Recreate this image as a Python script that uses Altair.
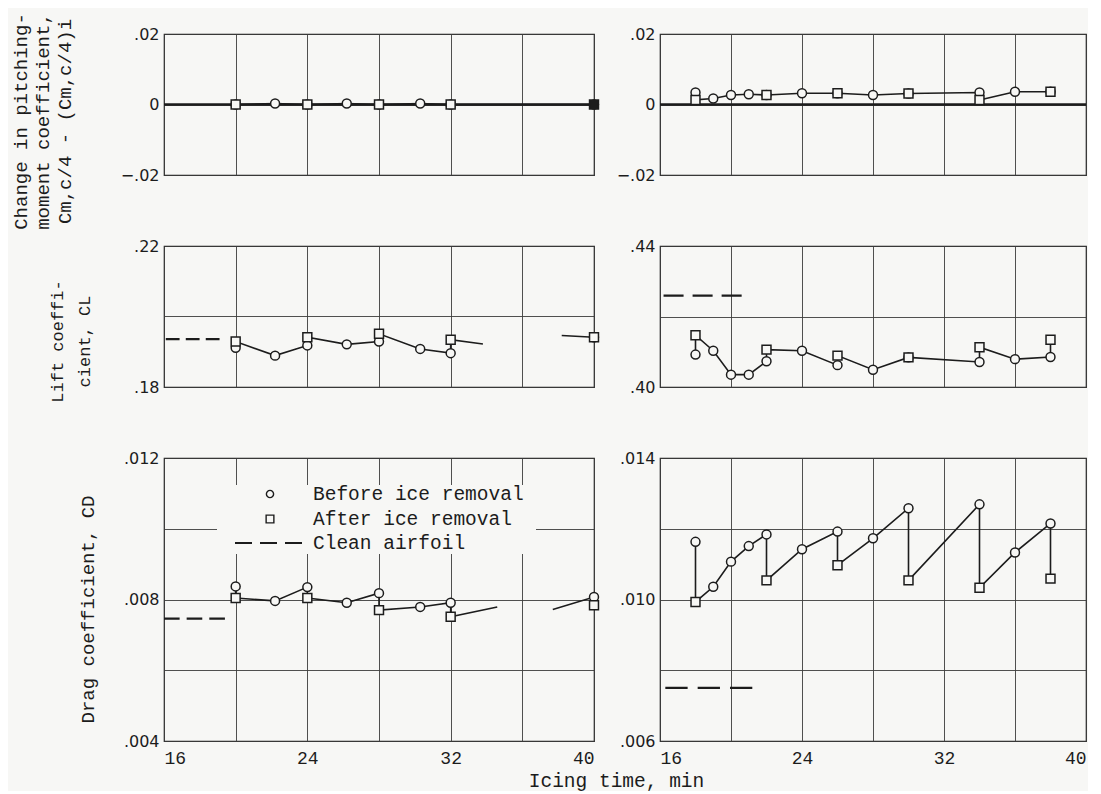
import altair as alt
import pandas as pd

BG = "#f7f7f5"
INK = "#1c1c1c"
GRID = "#3c3c3c"
MONO = "Liberation Mono"
SANS = "DejaVu Sans"

KINDS = ["Before ice removal", "After ice removal"]
SHAPES = ["circle", "square"]
LEGEND_LABELS = ["Before ice removal", "After ice removal", "Clean airfoil"]

# ---------------- data (icing time in min) ----------------
# left column
left_before_t = [20, 22.2, 24, 26.2, 28, 30.3, 32, 40]
left_after_t = [20, 24, 28, 32, 40]

pitch_l_before_v = [0, 0.0003, 0, 0.0003, 0, 0.0003, 0, 0]
pitch_l_after_v = [0, 0, 0, 0, 0]
pitch_l_after_solid = [0, 0, 0, 0, 1]

lift_l_before_v = [0.1911, 0.1889, 0.1918, 0.1921, 0.1929, 0.1908, 0.1896, 0.1941]
lift_l_after_v = [0.1929, 0.1941, 0.1951, 0.1934, 0.1941]
lift_l_gap_t = [33.8, 38.2]
lift_l_gap_v = [0.1922, 0.1946]
lift_l_clean_t = [16.1, 19.1]
lift_l_clean_v = 0.1936

drag_l_before_v = [0.00837, 0.00796, 0.00835, 0.00791, 0.00818, 0.00779, 0.00791, 0.00807]
drag_l_after_v = [0.00804, 0.00804, 0.00770, 0.00751, 0.00784]
drag_l_gap_t = [34.6, 37.7]
drag_l_gap_v = [0.00779, 0.00772]
drag_l_clean_t = [16.0, 19.4]
drag_l_clean_v = 0.00746

# right column
right_before_t = [18, 19, 20, 21, 22, 24, 26, 28, 30, 34, 36, 38]
right_after_t = [18, 22, 26, 30, 34, 38]

pitch_r_before_v = [0.0034, 0.0017, 0.0027, 0.0029, 0.0027, 0.0032, 0.0032, 0.0027, 0.0031, 0.0034, 0.0036, 0.0036]
pitch_r_after_v = [0.0013, 0.0027, 0.0032, 0.0031, 0.0013, 0.0036]

lift_r_before_v = [0.4092, 0.4103, 0.4035, 0.4035, 0.4073, 0.4103, 0.4062, 0.4049, 0.4084, 0.4071, 0.4079, 0.4085]
lift_r_after_v = [0.4147, 0.4106, 0.4089, 0.4084, 0.4113, 0.4134]
lift_r_clean_t = [16.2, 20.6]
lift_r_clean_v = 0.4259

drag_r_before_v = [0.01163, 0.01036, 0.01107, 0.01151, 0.01184, 0.01142, 0.01192, 0.01173, 0.01258, 0.01269, 0.01133, 0.01215]
drag_r_after_v = [0.00993, 0.01054, 0.01097, 0.01054, 0.01033, 0.01059]
drag_r_clean_t = [16.3, 21.2]
drag_r_clean_v = 0.0075

# axis values
x_grid = [16, 20, 24, 28, 32, 36, 40]
pitch_vals = [-0.02, 0.0, 0.02]
lift_l_vals = [0.18, 0.20, 0.22]
lift_l_lab = [0.18, 0.22]
lift_r_vals = [0.40, 0.42, 0.44]
lift_r_lab = [0.40, 0.44]
drag_l_vals = [0.004, 0.006, 0.008, 0.010, 0.012]
drag_l_lab = [0.004, 0.008, 0.012]
drag_r_vals = [0.006, 0.008, 0.010, 0.012, 0.014]
drag_r_lab = [0.006, 0.010, 0.014]

LW, RW = 430, 426
H1, H3 = 141, 283


def points_df(bt, bv, at, av, solid=None):
    rows = [{"t": t, "v": v, "kind": KINDS[0], "solid": 0} for t, v in zip(bt, bv)]
    for i, (t, v) in enumerate(zip(at, av)):
        rows.append({"t": t, "v": v, "kind": KINDS[1], "solid": solid[i] if solid else 0})
    return pd.DataFrame(rows)


def path_df(bt, bv, at, av, gap_t=None, gap_v=None, split=None):
    rows = [(t, 0, v) for t, v in zip(bt, bv)] + [(t, 1, v) for t, v in zip(at, av)]
    if gap_t:
        rows += [(t, 0, v) for t, v in zip(gap_t, gap_v)]
    rows.sort(key=lambda r: (r[0], r[1]))
    df = pd.DataFrame(rows, columns=["t", "k", "v"])
    df["o"] = range(len(df))
    df["seg"] = 0 if split is None else (df["t"] > split).astype(int)
    return df


def label_expr(labeled, fmt):
    cond = " || ".join(f"abs(datum.value - ({x})) < 1e-9" for x in labeled)
    return (f"({cond}) ? (datum.value == 0 ? '0' : "
            f"replace(format(datum.value, '{fmt}'), '0.', '.')) : ''")


def legend_layers():
    """Key box inside the drag panel (placed in panel pixels)."""
    one = pd.DataFrame({"k": [0]})
    base = alt.Chart(one)
    out = [
        base.mark_rect(fill=BG, stroke=None).encode(
            x=alt.value(53), x2=alt.value(372), y=alt.value(27), y2=alt.value(96)),
        base.mark_point(shape="circle", size=52, stroke=INK, strokeWidth=1.4,
                        fill=BG, fillOpacity=1, opacity=1).encode(
            x=alt.value(106), y=alt.value(36)),
        base.mark_point(shape="square", size=60, stroke=INK, strokeWidth=1.4,
                        fill=BG, fillOpacity=1, opacity=1).encode(
            x=alt.value(106), y=alt.value(61)),
        base.mark_rule(color=INK, strokeWidth=2.2, strokeDash=[17, 8]).encode(
            x=alt.value(71), x2=alt.value(138), y=alt.value(85)),
    ]
    for lab, yy in zip(LEGEND_LABELS, [36, 60.5, 85]):
        out.append(base.mark_text(align="left", baseline="middle", font=MONO,
                                  fontSize=19.5, color=INK).encode(
            x=alt.value(149), y=alt.value(yy), text=alt.value(lab)))
    return out


def panel(pts, path, ydom, yvals, ylab, yfmt, w, h, bottom=False, ytitle=None,
          title_y=None, title_pad=0, title_size=19, title_lh=23, clean=None,
          zero=False, legend=False, xtitle=False):
    xk = dict(values=x_grid, grid=True, labels=bottom,
              labelExpr="datum.value % 8 == 0 ? datum.label : ''",
              labelFont=MONO, labelFontSize=18, labelPadding=8, labelColor=INK,
              title=None)
    if xtitle:
        xk.update(title="Icing time, min", titleX=452, titleY=45,
                  titleBaseline="alphabetic", titleFont=MONO, titleFontSize=19.5,
                  titleFontWeight="normal", titleColor=INK)
    yk = dict(values=yvals, grid=True, labelExpr=label_expr(ylab, yfmt),
              labelFont=SANS, labelFontSize=16, labelPadding=5, labelColor=INK,
              title=None)
    if ytitle:
        yk.update(title=ytitle, titleFont=MONO, titleFontSize=title_size,
                  titleFontWeight="normal", titleLineHeight=title_lh,
                  titlePadding=title_pad, titleY=title_y, titleColor=INK)
    x = alt.X("t:Q", scale=alt.Scale(domain=[16, 40], nice=False, zero=False), axis=alt.Axis(**xk))
    y = alt.Y("v:Q", scale=alt.Scale(domain=ydom, nice=False, zero=False), axis=alt.Axis(**yk))

    layers = []
    if zero:
        layers.append(alt.Chart(pd.DataFrame({"v": [0.0]}))
                      .mark_rule(color=INK, strokeWidth=2.4).encode(y=y))
    if clean:
        t1, t2 = clean[0]
        px = (t2 - t1) * w / 24.0
        d = px / 3.9
        cdf = pd.DataFrame({"t": [t1], "t2": [t2], "v": [clean[1]]})
        layers.append(alt.Chart(cdf).mark_rule(color=INK, strokeWidth=2.2,
                                               strokeDash=[d, 0.45 * d])
                      .encode(x=x, x2="t2:Q", y=y))
    layers.append(alt.Chart(path).mark_line(color=INK, strokeWidth=1.6)
                  .encode(x=x, y=y, detail="seg:N", order="o:Q"))
    shape = alt.Shape("kind:N", scale=alt.Scale(domain=KINDS, range=SHAPES), legend=None)
    enc = dict(x=x, y=y, shape=shape)
    mk = dict(size=80, strokeWidth=1.5, stroke=INK, opacity=1, fillOpacity=1)
    if pts["solid"].sum() > 0:
        enc["fill"] = alt.condition("datum.solid == 1", alt.value(INK), alt.value(BG))
    else:
        mk["fill"] = BG
    layers.append(alt.Chart(pts).mark_point(**mk).encode(**enc))
    if legend:
        layers += legend_layers()
    return alt.layer(*layers).properties(width=w, height=h)


p_tl = panel(points_df(left_before_t, pitch_l_before_v, left_after_t, pitch_l_after_v, pitch_l_after_solid),
             path_df(left_before_t, pitch_l_before_v, left_after_t, pitch_l_after_v),
             [-0.02, 0.02], pitch_vals, pitch_vals, ".2f", LW, H1,
             ytitle=["Change in pitching-", "moment coefficient,", "Cm,c/4 - (Cm,c/4)i"],
             title_y=87, title_pad=46, title_size=19, title_lh=22, zero=True)
p_tr = panel(points_df(right_before_t, pitch_r_before_v, right_after_t, pitch_r_after_v),
             path_df(right_before_t, pitch_r_before_v, right_after_t, pitch_r_after_v),
             [-0.02, 0.02], pitch_vals, pitch_vals, ".2f", RW, H1, zero=True)

p_ml = panel(points_df(left_before_t, lift_l_before_v, left_after_t, lift_l_after_v),
             path_df(left_before_t, lift_l_before_v, left_after_t, lift_l_after_v,
                     lift_l_gap_t, lift_l_gap_v, split=36),
             [0.18, 0.22], lift_l_vals, lift_l_lab, ".2f", LW, H1,
             ytitle=["Lift coeffi-", "cient, CL"], title_y=95, title_pad=40,
             title_size=17, title_lh=27, clean=(lift_l_clean_t, lift_l_clean_v))
p_mr = panel(points_df(right_before_t, lift_r_before_v, right_after_t, lift_r_after_v),
             path_df(right_before_t, lift_r_before_v, right_after_t, lift_r_after_v),
             [0.40, 0.44], lift_r_vals, lift_r_lab, ".2f", RW, H1,
             clean=(lift_r_clean_t, lift_r_clean_v))

p_bl = panel(points_df(left_before_t, drag_l_before_v, left_after_t, drag_l_after_v),
             path_df(left_before_t, drag_l_before_v, left_after_t, drag_l_after_v,
                     drag_l_gap_t, drag_l_gap_v, split=36),
             [0.004, 0.012], drag_l_vals, drag_l_lab, ".3f", LW, H3, bottom=True,
             ytitle="Drag coefficient, CD", title_y=151, title_pad=26, title_size=19,
             clean=(drag_l_clean_t, drag_l_clean_v), legend=True, xtitle=True)
p_br = panel(points_df(right_before_t, drag_r_before_v, right_after_t, drag_r_after_v),
             path_df(right_before_t, drag_r_before_v, right_after_t, drag_r_after_v),
             [0.006, 0.014], drag_r_vals, drag_r_lab, ".3f", RW, H3, bottom=True,
             clean=(drag_r_clean_t, drag_r_clean_v))

chart = (alt.concat(p_tl, p_tr, p_ml, p_mr, p_bl, p_br, columns=2,
                    spacing={"row": 71, "column": 66}, bounds="flush")
         .resolve_scale(shape="independent")
         .properties(padding={"left": 2, "top": 4, "right": 0, "bottom": 0}, background=BG)
         .configure_view(stroke=INK, strokeWidth=1.2)
         .configure_axis(gridColor=GRID, gridWidth=0.9, gridOpacity=1, domain=False, ticks=False))

chart.save("out.html", embed_options={"renderer": "svg", "actions": False})
